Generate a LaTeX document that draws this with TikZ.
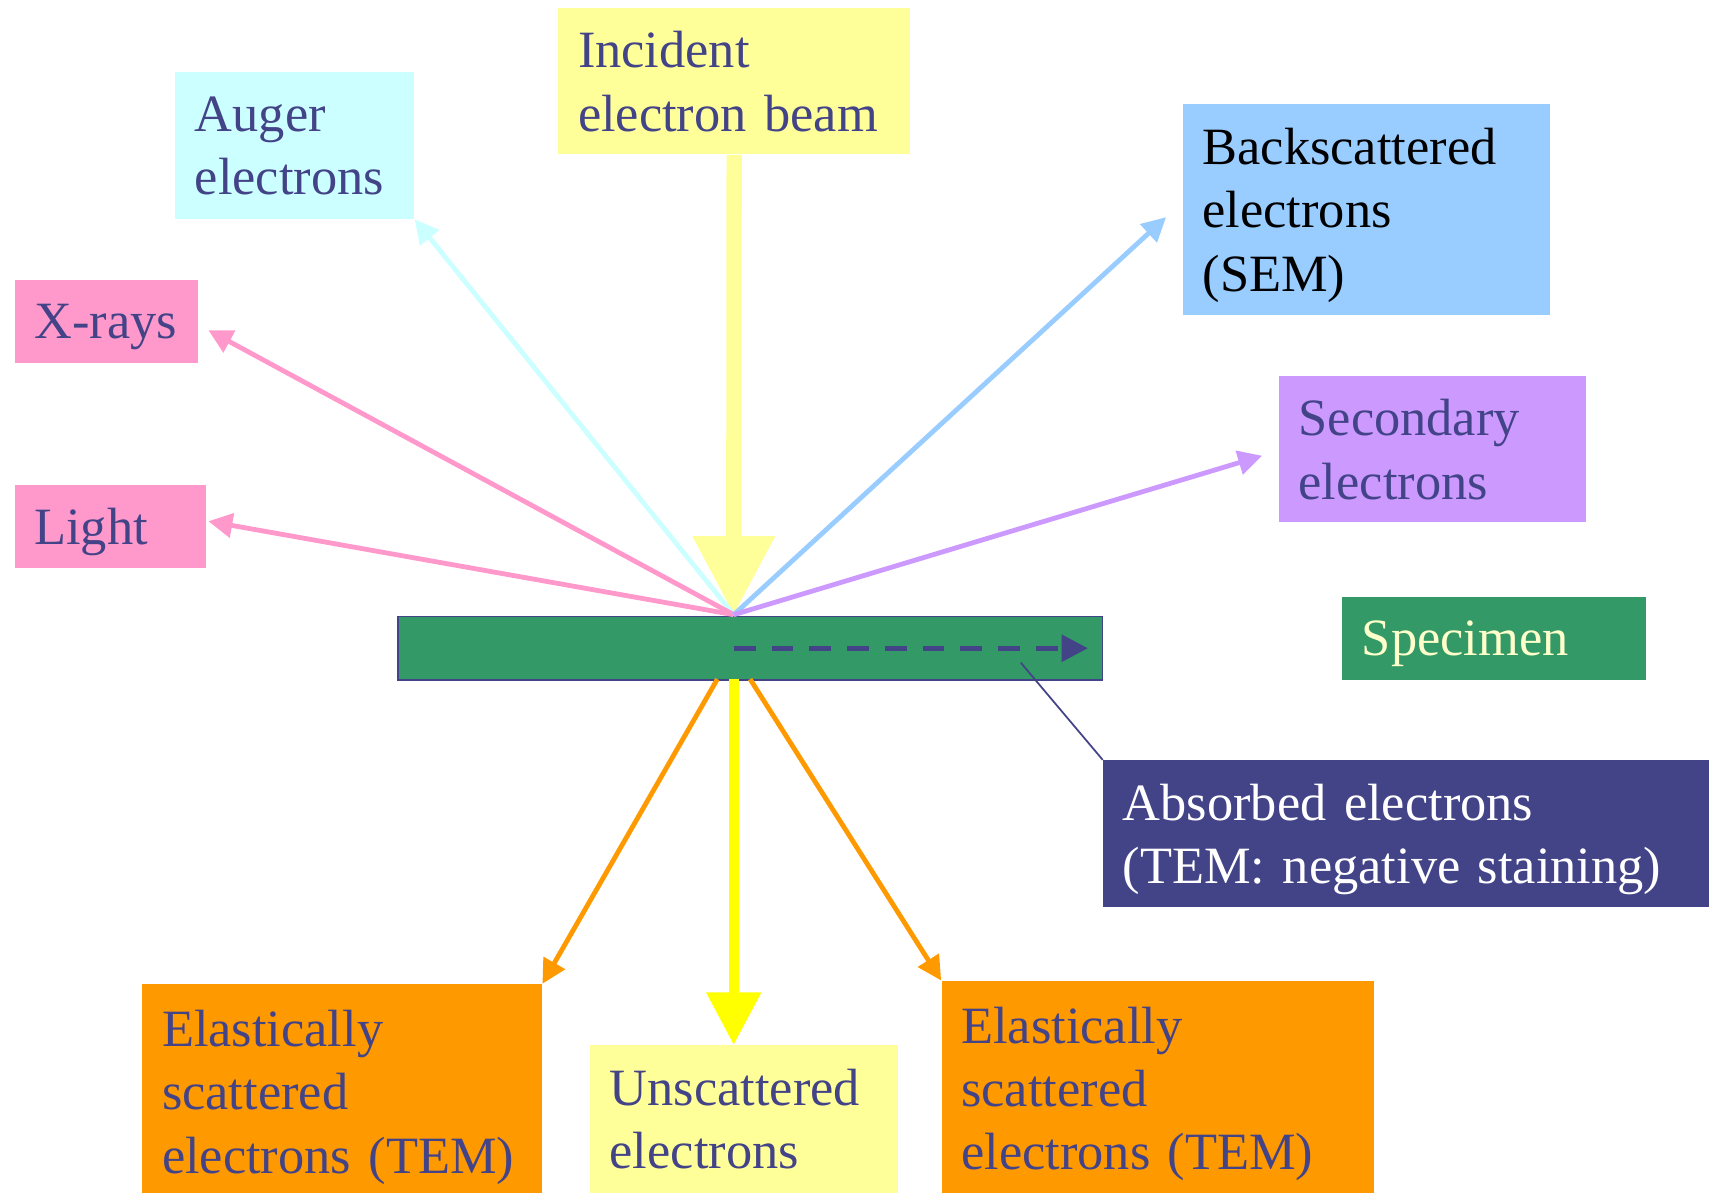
\documentclass[tikz,border=0pt]{standalone}
\usepackage{fontspec}
\setmainfont{Liberation Serif}
\usetikzlibrary{arrows.meta,calc}
\definecolor{txt}{HTML}{434388}
\definecolor{incY}{HTML}{FFFF99}
\definecolor{augC}{HTML}{CCFFFF}
\definecolor{pinkR}{HTML}{FF99CC}
\definecolor{bsB}{HTML}{99CCFF}
\definecolor{secP}{HTML}{CC99FF}
\definecolor{specG}{HTML}{339966}
\definecolor{specT}{HTML}{FFFFCC}
\definecolor{absN}{HTML}{434388}
\definecolor{orng}{HTML}{FF9900}
\definecolor{yel}{HTML}{FFFF00}
\begin{document}
\begin{tikzpicture}[x=0.5pt,y=-0.5pt,
  box/.style={anchor=north west, inner xsep=9pt, inner ysep=0pt, align=left,
    font=\fontsize{24}{29}\selectfont, text=txt},
  one/.style={text depth=0pt},
  two/.style={text depth=29pt},
  three/.style={text depth=58pt},
  ray/.style={line width=2.2pt, -{Triangle[length=11pt,width=11pt]}},
  bigarrow/.style={line width=7pt, -{Triangle[length=36pt,width=36pt]}},
  midarrow/.style={line width=4.5pt, -{Triangle[length=24pt,width=24pt]}},
]
\useasboundingbox (0,0) rectangle (1568,1092);
\clip (0,0) rectangle (1568,1092);

% boxes
\node[box, two, fill=incY, text width=143pt, minimum height=67pt] (inc) at (511,7) {Incident\\electron beam};
\node[box, two, fill=augC, text width=91.5pt, minimum height=67pt] (aug) at (160,66) {Auger\\electrons};
\node[box, one, fill=pinkR, text width=66pt, minimum height=38pt] (xr) at (13,256) {X-rays};
\node[box, one, fill=pinkR, text width=69.5pt, minimum height=38pt] (light) at (13,444) {Light};
\node[box, three, fill=bsB, text=black, text width=150pt, minimum height=96.5pt] (bs) at (1083,95) {Backscattered\\electrons\\(SEM)};
\node[box, two, fill=secP, text width=122.5pt, minimum height=67pt] (sec) at (1171,344) {Secondary\\electrons};
\node[box, one, fill=specG, text=specT, text width=121pt, minimum height=38pt] (spl) at (1229,546) {Specimen};
\node[box, two, fill=absN, text=white, text width=259.5pt, minimum height=67pt] (abs) at (1010,696) {Absorbed electrons\\(TEM: negative staining)};
\node[box, three, fill=orng, text width=165pt, minimum height=98.5pt] (el1) at (130,901) {Elastically\\scattered\\electrons (TEM)};
\node[box, two, fill=incY, text width=123pt, minimum height=67.5pt] (uns) at (540,957) {Unscattered\\electrons};
\node[box, three, fill=orng, text width=180pt, minimum height=98.5pt] (el2) at (862,898) {Elastically\\scattered\\electrons (TEM)};

% specimen bar
\node[draw=txt, line width=0.7pt, fill=specG, minimum width=322.5pt, minimum height=29pt,
  anchor=north west, inner sep=0pt] (spec) at (364,564) {};

\coordinate (src) at (672,563);
\coordinate (bot) at (672,622);
\coordinate (absp) at (935,607);

% incident beam
\draw[bigarrow, incY] (inc.south) -- (src);

% emitted rays
\draw[ray, augC] (src) -- (aug.south east);
\draw[ray, pinkR] (src) -- ($(xr.east)+(9,8)$);
\draw[ray, pinkR] (src) -- ($(light.east)+(2,-5)$);
\draw[ray, bsB] (src) -- ($(bs.west)+(-15,7)$);
\draw[ray, secP] (src) -- ($(sec.west)+(-15,6)$);

% transmitted
\draw[ray, orng] ($(bot)+(-15,0)$) -- (el1.north east);
\draw[midarrow, yel] (bot) -- (bot |- uns.north);
\draw[ray, orng] ($(bot)+(15,0)$) -- (el2.north west);

% absorbed
\draw[txt, line width=2.2pt, dash pattern=on 10pt off 7.3pt, -{Triangle[length=12pt,width=12pt]}]
  (bot |- spec.west) -- ($(spec.east)+(-14,0)$);
\draw[txt, line width=0.8pt] (absp) -- (abs.north west);
\end{tikzpicture}
\end{document}
